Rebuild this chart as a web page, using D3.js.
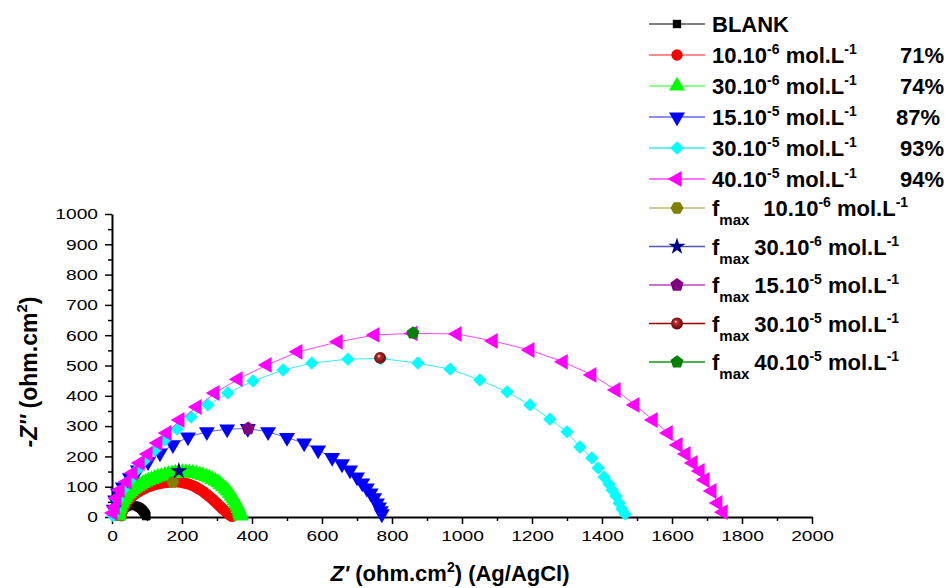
<!DOCTYPE html>
<html>
<head>
<meta charset="utf-8">
<title>Nyquist plot</title>
<script src="https://d3js.org/d3.v7.min.js"></script>
<style>
  body { margin: 0; background: #fff; }
  svg { font-family: "Liberation Sans", Arial, sans-serif; }
  .axis path, .axis line { stroke: #000; }
</style>
</head>
<body>
<svg id="chart" width="947" height="588"></svg>
<script>
// Z' / -Z'' values (ohm.cm2)
const blankPts = [[18,2],[19,6],[20,10],[22,14],[24,18],[26,21],[29,24],[32,27],[35,30],[38,32],[42,34],[46,36],[50,37],[54,38],[58,38],[62,38],[66,37],[70,36],[74,34],[77,32],[80,30],[83,27],[86,24],[88,21],[90,18],[92,15],[94,12],[96,9],[97,6],[98,3]];
const c1Pts = [[27,4],[28,12],[30,20],[32,28],[35,35],[38,42],[42,49],[46,55],[51,61],[56,67],[61,72],[67,77],[73,82],[79,86],[86,90],[93,94],[100,98],[107,101],[115,104],[123,107],[131,109],[139,111],[147,113],[155,114],[163,115],[171,116],[179,116],[187,116],[195,115],[203,113],[211,111],[218,109],[225,106],[232,103],[239,99],[245,95],[251,91],[257,87],[263,82],[268,77],[274,72],[279,67],[284,62],[289,57],[294,51],[299,46],[304,40],[309,35],[314,29],[319,24],[324,19],[329,14],[334,9],[339,5],[343,2]];
const c2Pts = [[18,4],[19,12],[20,20],[22,28],[24,36],[27,44],[30,51],[34,58],[38,65],[43,72],[48,78],[54,84],[60,90],[66,96],[73,101],[80,106],[88,111],[96,116],[104,120],[113,124],[122,128],[131,132],[141,135],[151,138],[161,141],[171,143],[181,145],[191,146],[201,147],[211,147],[221,146],[231,145],[241,143],[251,140],[260,137],[269,133],[278,129],[287,124],[295,119],[303,113],[310,107],[317,100],[324,93],[330,86],[336,78],[341,70],[346,62],[350,54],[354,45],[358,37],[361,28],[364,20],[366,12],[368,4]];
const c3Pts = [[5,25],[9,56],[17,79],[31,99],[51,129],[74,155],[103,182],[137,211],[174,238],[217,264],[271,281],[329,290],[388,292],[446,281],[500,262],[549,244],[589,221],[629,196],[657,175],[680,155],[700,132],[715,112],[728,95],[739,79],[749,63],[757,46],[763,33],[768,20],[771,10]];
const c4Pts = [[3,5],[9,23],[17,56],[31,89],[51,122],[71,155],[94,188],[123,221],[151,254],[186,290],[226,330],[274,370],[331,409],[403,449],[489,485],[571,508],[674,521],[768,523],[874,508],[966,488],[1051,452],[1129,413],[1194,370],[1251,323],[1300,281],[1337,231],[1371,195],[1389,162],[1406,132],[1420,109],[1429,89],[1440,69],[1449,46],[1457,26],[1466,10]];
const c5Pts = [[3,13],[9,33],[14,63],[23,89],[43,116],[60,145],[80,178],[103,208],[131,244],[157,277],[194,320],[243,363],[294,409],[360,455],[443,502],[531,545],[646,578],[751,601],[860,606],[986,604],[1089,581],[1194,551],[1289,512],[1371,469],[1440,419],[1494,370],[1546,320],[1589,277],[1617,238],[1640,208],[1660,178],[1680,152],[1694,122],[1714,86],[1731,46],[1746,16]];

// f max points
const fmaxPts = [[174,115],[191,152],[389,292],[766,525],[860,607]];

const seriesNames = ["BLANK", "10.10|-6", "30.10|-6", "15.10|-5", "30.10|-5", "40.10|-5"];
const efficiencies = ["", "71%", "74%", "87%", "93%", "94%"];
const fmaxNames = ["10.10|-6", "30.10|-6", "15.10|-5", "30.10|-5", "40.10|-5"];

const xTicks = d3.range(0, 2001, 200);
const yTicks = d3.range(0, 1001, 100);

// styles
function polygon(n, rot) {
  return {
    draw(ctx, size) {
      const r = Math.sqrt(size / (n / 2 * Math.sin(2 * Math.PI / n)));
      for (let i = 0; i < n; i++) {
        const a = rot + i * 2 * Math.PI / n;
        const px = r * Math.sin(a), py = -r * Math.cos(a);
        if (i === 0) ctx.moveTo(px, py); else ctx.lineTo(px, py);
      }
      ctx.closePath();
    }
  };
}

const seriesStyle = [
  { fill: "#000000", line: "#555555", type: d3.symbolSquare, size: 70, rot: 0 },
  { fill: "#ff0000", line: "#ff6666", type: d3.symbolCircle, size: 100, rot: 0 },
  { fill: "#00ff00", line: "#66ff66", type: d3.symbolTriangle, size: 110, rot: 0 },
  { fill: "#0000ff", line: "#6666ff", type: d3.symbolTriangle, size: 110, rot: 180 },
  { fill: "#00ffff", line: "#33eeee", type: d3.symbolSquare, size: 90, rot: 45 },
  { fill: "#ff00ff", line: "#ff44ff", type: d3.symbolTriangle, size: 110, rot: -90 }
];
const fmaxStyle = [
  { fill: "#808000", line: "#bbbb77", type: polygon(6, Math.PI / 6), size: 110 },
  { fill: "#000080", line: "#5555bb", type: d3.symbolStar, size: 90 },
  { fill: "#800080", line: "#bb44bb", type: polygon(5, 0), size: 115 },
  { fill: "url(#sphere)", line: "#990000", type: d3.symbolCircle, size: 110 },
  { fill: "#008000", line: "#119911", type: polygon(5, 0), size: 110 }
];

const svg = d3.select("#chart");

const defs = svg.append("defs");
const grad = defs.append("radialGradient").attr("id", "sphere")
  .attr("cx", "50%").attr("cy", "50%").attr("r", "55%")
  .attr("fx", "38%").attr("fy", "32%");
grad.append("stop").attr("offset", "0%").attr("stop-color", "#ffffff");
grad.append("stop").attr("offset", "25%").attr("stop-color", "#c03030");
grad.append("stop").attr("offset", "100%").attr("stop-color", "#5a0000");

const x = d3.scaleLinear().domain([0, 2000]).range([112, 812]);
const y = d3.scaleLinear().domain([0, 1000]).range([517, 214]);

// minor ticks
svg.append("g").attr("class", "axis")
  .attr("transform", "translate(0,517)")
  .call(d3.axisBottom(x).tickValues(d3.range(100, 2000, 200)).tickSize(4).tickFormat(""))
  .call(g => g.select(".domain").remove())
  .selectAll("line").attr("stroke-width", 1.5);
svg.append("g").attr("class", "axis")
  .attr("transform", "translate(112,0)")
  .call(d3.axisLeft(y).tickValues(d3.range(50, 1000, 100)).tickSize(4).tickFormat(""))
  .call(g => g.select(".domain").remove())
  .selectAll("line").attr("stroke-width", 1.5);

// major axes
const gx = svg.append("g").attr("class", "axis")
  .attr("transform", "translate(0,517)")
  .call(d3.axisBottom(x).tickValues(xTicks).tickFormat(d3.format("d"))
    .tickSize(7).tickSizeOuter(0).tickPadding(6));
gx.select(".domain").attr("stroke-width", 2);
gx.selectAll(".tick line").attr("stroke-width", 1.5);
gx.selectAll(".tick text")
  .attr("font-size", 15).attr("fill", "#000")
  .attr("font-family", "Liberation Sans, Arial, sans-serif")
  .attr("transform", "scale(1.28,1)");

const gy = svg.append("g").attr("class", "axis")
  .attr("transform", "translate(112,0)")
  .call(d3.axisLeft(y).tickValues(yTicks).tickFormat(d3.format("d"))
    .tickSize(7).tickSizeOuter(0));
gy.select(".domain").attr("stroke-width", 2);
gy.selectAll(".tick line").attr("stroke-width", 1.5);
gy.selectAll(".tick text")
  .attr("font-size", 15).attr("fill", "#000")
  .attr("font-family", "Liberation Sans, Arial, sans-serif")
  .attr("x", -14 / 1.28)
  .attr("transform", "scale(1.28,1)");

// axis titles
const xt = svg.append("text")
  .attr("x", 450).attr("y", 581)
  .attr("text-anchor", "middle")
  .attr("font-size", 22).attr("font-weight", "bold");
xt.append("tspan").attr("font-style", "italic").text("Z'");
xt.append("tspan").text(" (ohm.cm");
xt.append("tspan").attr("font-size", 14).attr("dy", -9).text("2");
xt.append("tspan").attr("dy", 9).text(") (Ag/AgCl)");

const yt = svg.append("text")
  .attr("transform", "translate(37,372) rotate(-90)")
  .attr("text-anchor", "middle")
  .attr("font-size", 23).attr("font-weight", "bold");
yt.append("tspan").attr("font-style", "italic").text("-Z''");
yt.append("tspan").text(" (ohm.cm");
yt.append("tspan").attr("font-size", 15).attr("dy", -10).text("2");
yt.append("tspan").attr("dy", 10).text(")");

// curves
const allSeries = [blankPts, c1Pts, c2Pts, c3Pts, c4Pts, c5Pts];
const line = d3.line().x(d => x(d[0])).y(d => y(d[1]));

allSeries.forEach((pts, i) => {
  const st = seriesStyle[i];
  const g = svg.append("g");
  g.append("path").attr("d", line(pts))
    .attr("fill", "none").attr("stroke", st.line).attr("stroke-width", 1);
  g.selectAll("path.pt").data(pts).join("path")
    .attr("class", "pt")
    .attr("d", d3.symbol(st.type, st.size))
    .attr("transform", d => `translate(${x(d[0])},${y(d[1])}) rotate(${st.rot})`)
    .attr("fill", st.fill);
});

svg.append("g").selectAll("path").data(fmaxPts).join("path")
  .attr("d", (d, i) => d3.symbol(fmaxStyle[i].type, fmaxStyle[i].size)())
  .attr("transform", d => `translate(${x(d[0])},${y(d[1])})`)
  .attr("fill", (d, i) => fmaxStyle[i].fill);

// legend
function addConc(t, label, dx, dy) {
  const [base, exp] = label.split("|");
  t.append("tspan").attr("dx", dx).attr("dy", dy).text(base);
  t.append("tspan").attr("font-size", 14).attr("dy", -9).text(exp);
  t.append("tspan").attr("dy", 9).text(" mol.L");
  t.append("tspan").attr("font-size", 14).attr("dy", -9).text("-1");
}

const legend = svg.append("g").attr("font-weight", "bold").attr("font-size", 22);

seriesNames.forEach((name, i) => {
  const ry = 24 + i * 31;
  const st = seriesStyle[i];
  legend.append("line").attr("x1", 649).attr("x2", 705).attr("y1", ry).attr("y2", ry)
    .attr("stroke", st.line).attr("stroke-width", 1.5);
  legend.append("path").attr("d", d3.symbol(st.type, st.size)())
    .attr("transform", `translate(677,${ry}) rotate(${st.rot})`)
    .attr("fill", st.fill);
  const t = legend.append("text").attr("x", 712).attr("y", ry + 8);
  if (i === 0) t.text(name); else addConc(t, name, 0, 0);
  if (efficiencies[i]) {
    legend.append("text").attr("x", i === 3 ? 940 : 944).attr("y", ry + 8)
      .attr("text-anchor", "end").text(efficiencies[i]);
  }
});

fmaxNames.forEach((name, i) => {
  const ry = 208 + i * 38.5;
  const st = fmaxStyle[i];
  legend.append("line").attr("x1", 649).attr("x2", 705).attr("y1", ry).attr("y2", ry)
    .attr("stroke", st.line).attr("stroke-width", 1.5);
  legend.append("path").attr("d", d3.symbol(st.type, st.size)())
    .attr("transform", `translate(677,${ry})`)
    .attr("fill", st.fill);
  const t = legend.append("text").attr("x", 712).attr("y", ry + 8);
  t.append("tspan").text("f");
  t.append("tspan").attr("font-size", 15).attr("dy", 9).text("max");
  addConc(t, name, i === 0 ? 14 : 5, -9);
});
</script>
</body>
</html>
